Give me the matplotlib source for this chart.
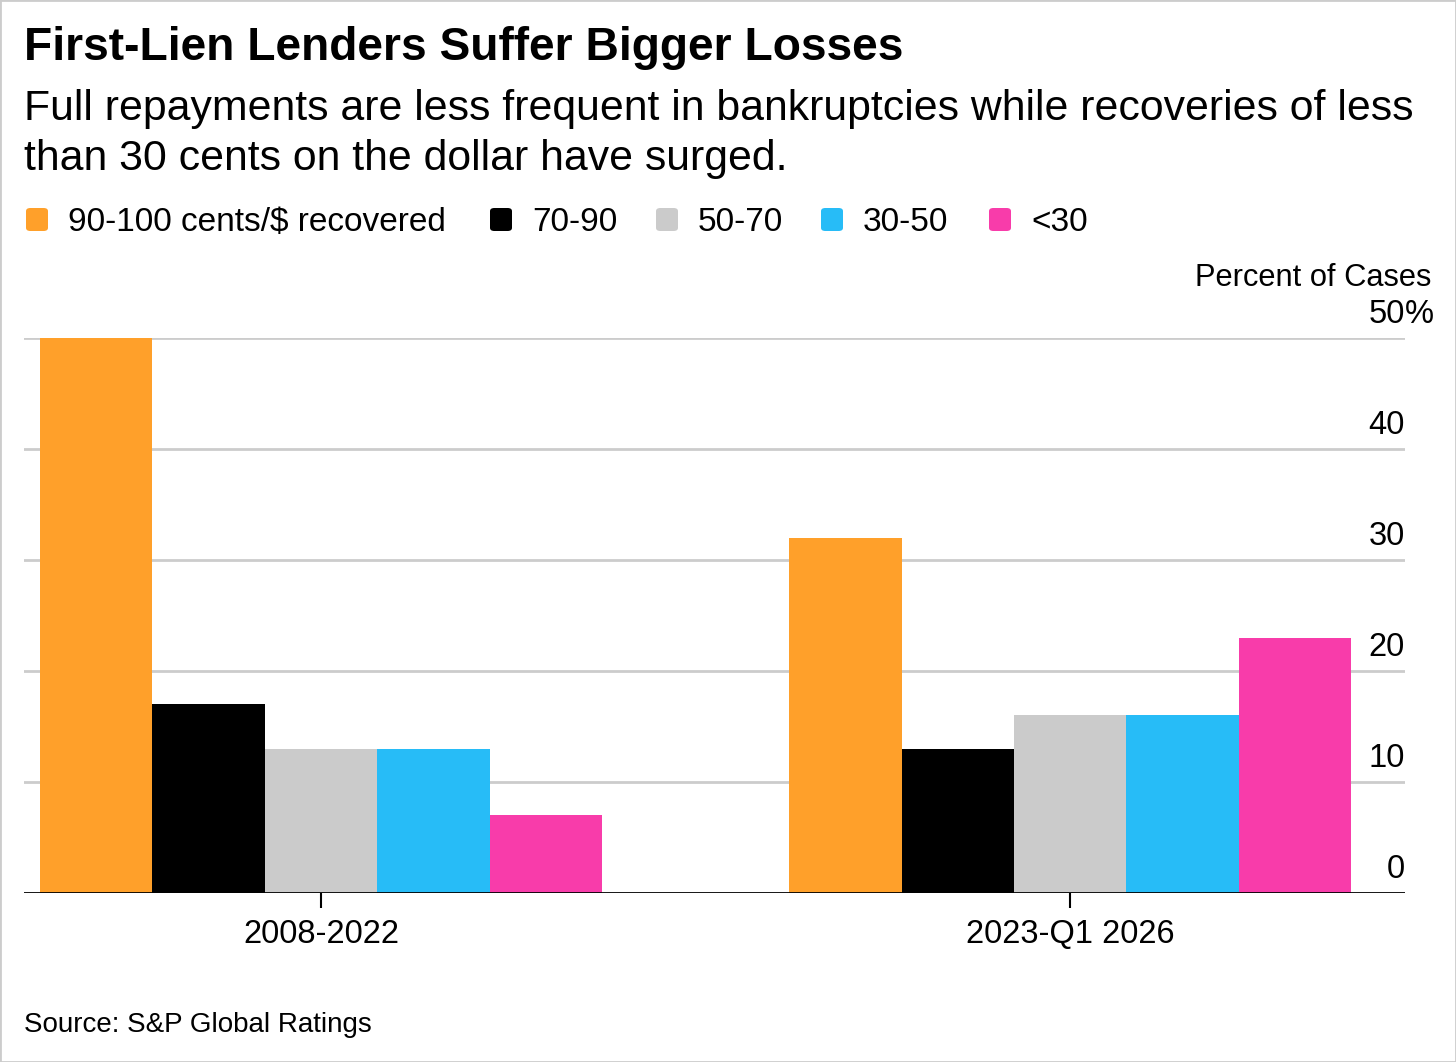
import matplotlib
matplotlib.use("Agg")
import matplotlib.pyplot as plt
import numpy as np
from matplotlib.patches import FancyBboxPatch, Rectangle

plt.rcParams['font.family'] = ['Liberation Sans', 'DejaVu Sans']

# data
periods = ["2008-2022", "2023-Q1 2026"]
buckets = ["90-100 cents/$ recovered", "70-90", "50-70", "30-50", "<30"]
colors = ["#FFA02A", "#000000", "#CBCBCB", "#27BCF7", "#F83CAA"]
share_2008_2022 = [50, 17, 13, 13, 7]
share_2023_2026 = [32, 13, 16, 16, 23]
yticks = [0, 10, 20, 30, 40, 50]

W, H = 1456, 1062
fig = plt.figure(figsize=(W / 100, H / 100), dpi=100)

def fx(px):
    return px / W

def fy(py):
    return 1 - py / H

# plot area in pixels: x 24..1405, y 338..893
ax = fig.add_axes([fx(24), fy(893), fx(1405) - fx(24), fy(338) - fy(893)])

values = np.array([share_2008_2022, share_2023_2026])
width = 0.15
x = np.arange(len(periods))
for i, (name, col) in enumerate(zip(buckets, colors)):
    ax.bar(x + (i - 2) * width, values[:, i], width, color=col, label=name, zorder=2)

ax.set_xlim(-0.3965, 1.447)
ax.set_ylim(0, 50)
for t in yticks[1:]:
    ax.axhline(t, color="#CCCCCC", lw=2, zorder=1)
ax.axhline(0, color="#000000", lw=2, zorder=3)

for s in ax.spines.values():
    s.set_visible(False)
ax.set_yticks([])
ax.set_xticks(x)
ax.set_xticklabels(periods, fontsize=23.5)
ax.tick_params(axis="x", length=11, width=1.5, color="#000000", pad=8)

# y labels sit above the gridlines, right aligned
for t in yticks:
    ax.annotate(str(t), xy=(1.0, t), xycoords=("axes fraction", "data"),
                xytext=(0, 10.5), textcoords="offset points",
                ha="right", va="baseline", fontsize=23.5)
ax.annotate("%", xy=(1.0, 50), xycoords=("axes fraction", "data"),
            xytext=(0, 10.5), textcoords="offset points",
            ha="left", va="baseline", fontsize=23.5)
fig.text(fx(1431), fy(286), "Percent of Cases", ha="right", va="baseline", fontsize=22.2)

# titles
fig.text(fx(24), fy(60), "First-Lien Lenders Suffer Bigger Losses",
         fontsize=33.2, fontweight="bold", va="baseline")
fig.text(fx(24), fy(120), "Full repayments are less frequent in bankruptcies while recoveries of less",
         fontsize=30.8, va="baseline")
fig.text(fx(24), fy(170), "than 30 cents on the dollar have surged.",
         fontsize=30.8, va="baseline")

# legend
sq_x = [26, 490, 656, 821, 989]
for sx, name, col in zip(sq_x, buckets, colors):
    fig.patches.append(FancyBboxPatch((fx(sx), fy(231)), fx(22), fy(208) - fy(231),
                                      boxstyle="round,pad=0,rounding_size=0.003",
                                      transform=fig.transFigure, facecolor=col,
                                      edgecolor="none"))
    fig.text(fx(sx + 42), fy(231), name, fontsize=24, va="baseline")

fig.text(fx(24), fy(1032), "Source: S&P Global Ratings", fontsize=20, va="baseline")

# thin frame round the picture
fig.patches.append(Rectangle((0, 0), 1, 1, transform=fig.transFigure,
                             fill=False, edgecolor="#CCCCCC", lw=2))

fig.savefig("out.png", dpi=100)
